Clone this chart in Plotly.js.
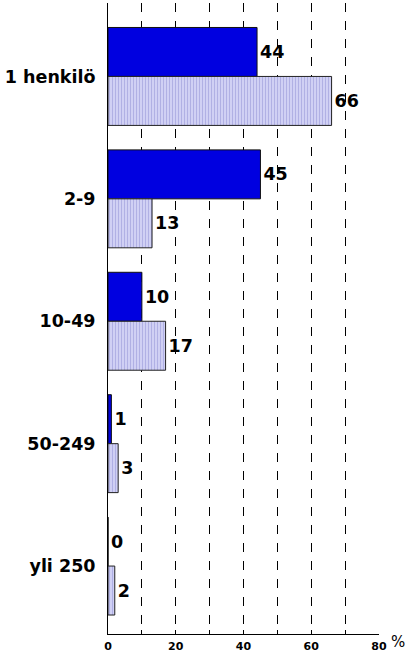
<!DOCTYPE html>
<html><head><meta charset="utf-8">
<script src="https://cdn.plot.ly/plotly-3.0.1.min.js"></script>
<style>html,body{margin:0;padding:0;background:#fff}#c{width:407px;height:657px}</style>
</head><body><div id="c"></div>
<script>
const categories = ['1 henkilö', '2-9', '10-49', '50-249', 'yli 250'];
const seriesA = [44, 45, 10, 1, 0];
const seriesB = [66, 13, 17, 3, 2];
const xTickVals = [0, 20, 40, 60, 80];

const fam = 'DejaVu Sans, Arial, sans-serif';
const font = {family: fam, color: '#000'};
const traces = [
  {type: 'bar', orientation: 'h', y: categories, x: seriesA,
   text: seriesA.map(String), textposition: 'outside', cliponaxis: false,
   textfont: {family: fam, size: 17.5, color: '#000', weight: 'bold'},
   marker: {color: '#0000e0', line: {color: '#111', width: 1}}, hoverinfo: 'none'},
  {type: 'bar', orientation: 'h', y: categories, x: seriesB,
   text: seriesB.map(String), textposition: 'outside', cliponaxis: false,
   textfont: {family: fam, size: 17.5, color: '#000', weight: 'bold'},
   marker: {color: '#c8c8f0', line: {color: '#222', width: 1},
     pattern: {shape: '|', size: 3, solidity: 0.35, fgcolor: '#b0b0e4', bgcolor: '#d0d0f4', fillmode: 'replace'}},
   hoverinfo: 'none'}
];
const layout = {
  width: 407, height: 657,
  margin: {l: 108, r: 28, t: 3, b: 23},
  paper_bgcolor: '#fff', plot_bgcolor: '#fff',
  showlegend: false,
  barmode: 'group', bargap: 0.2, bargroupgap: 0,
  font: font,
  xaxis: {range: [0, 80], tickvals: xTickVals, ticktext: xTickVals.map(String),
    showgrid: false, zeroline: false, showline: true, linecolor: '#000', linewidth: 1,
    ticks: 'inside', ticklen: 4, tickcolor: '#000', ticklabelstandoff: 2,
    tickfont: {family: fam, size: 11, color: '#000', weight: 'bold'},
    minor: {dtick: 10, tick0: 0, showgrid: true, gridcolor: '#000', gridwidth: 1, griddash: 'dash', ticks: 'inside', ticklen: 4, tickcolor: '#000'},
    fixedrange: true},
  yaxis: {type: 'category', autorange: false, range: [4.555, -0.6],
    showgrid: false, zeroline: false, showline: true, linecolor: '#000', linewidth: 1,
    ticks: '', ticklabelstandoff: 8,
    tickfont: {family: fam, size: 17.5, color: '#000', weight: 'bold'},
    fixedrange: true},
  annotations: [{xref: 'paper', yref: 'paper', x: 1.0, y: 0, xanchor: 'left', yanchor: 'top',
    xshift: 10, yshift: 3, text: '%', showarrow: false, font: {family: fam, size: 15, color: '#000'}}]
};
Plotly.newPlot('c', traces, layout, {displayModeBar: false, staticPlot: true});
</script></body></html>
